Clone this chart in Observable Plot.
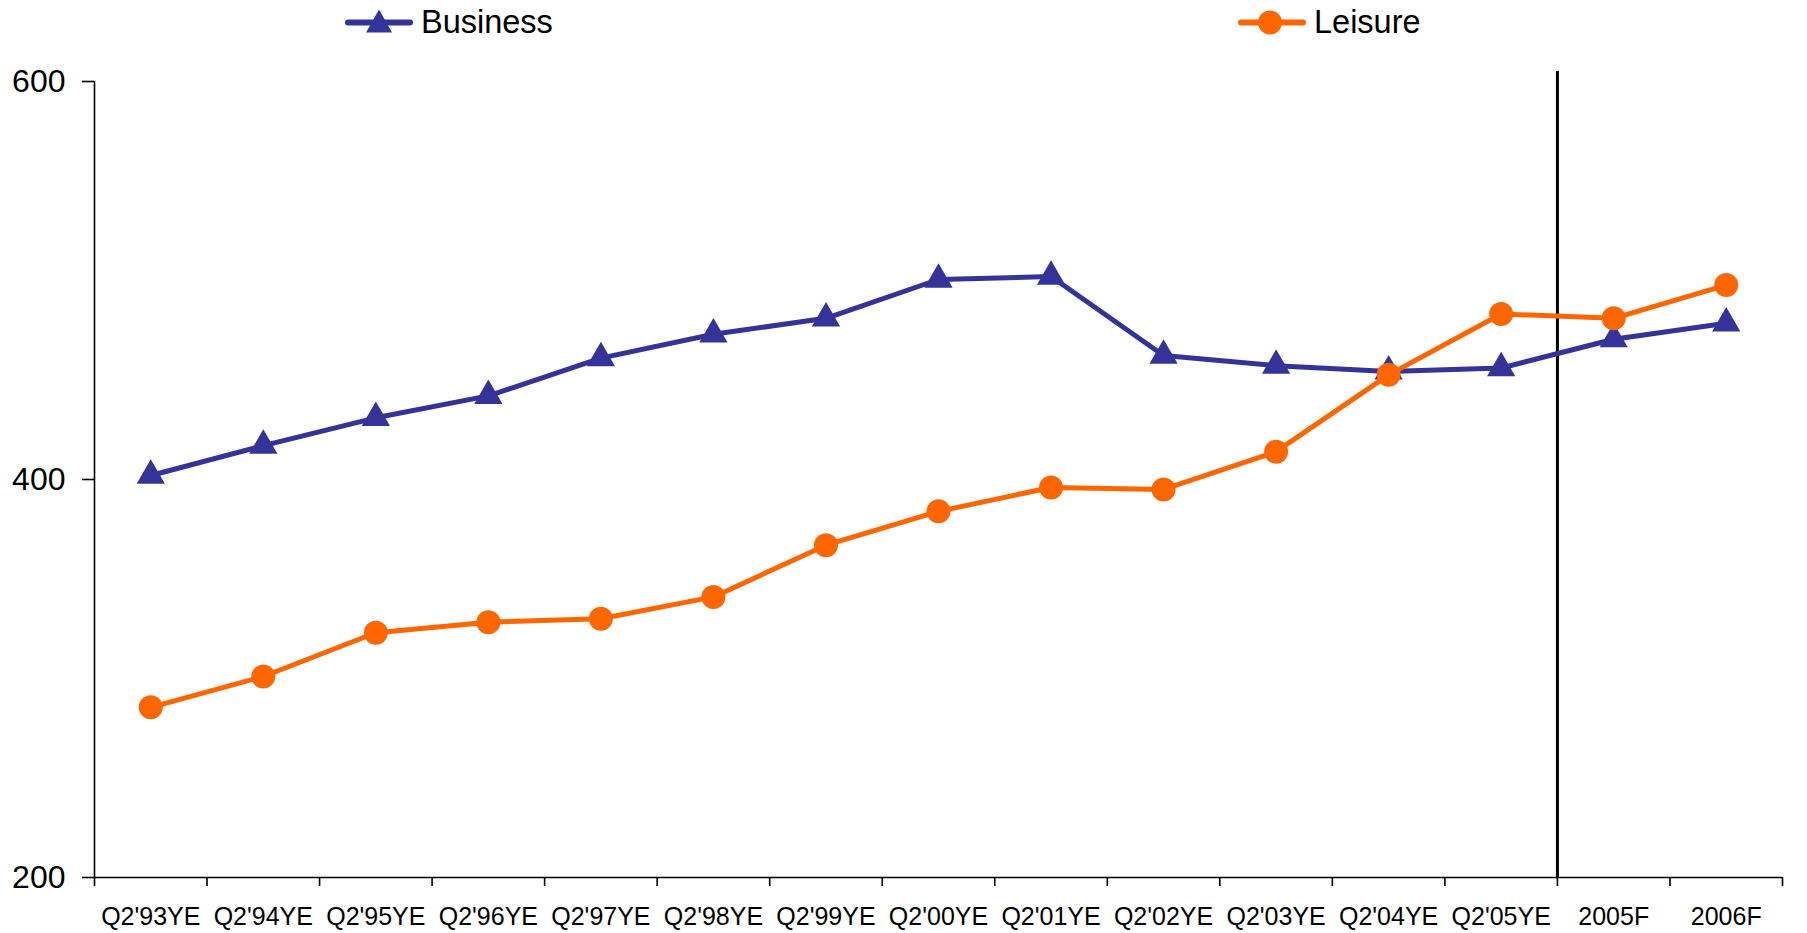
<!DOCTYPE html>
<html>
<head>
<meta charset="utf-8">
<script src="https://cdn.jsdelivr.net/npm/d3@7"></script>
<script src="https://cdn.jsdelivr.net/npm/@observablehq/plot@0.6"></script>
<style>
  html, body { margin: 0; padding: 0; background: #fff; }
  body { width: 1807px; height: 933px; overflow: hidden; font-family: "Liberation Sans", Arial, sans-serif; }
  #legend { position: relative; height: 45px; width: 1807px; }
  .item { position: absolute; top: 0; height: 45px; display: flex; align-items: center; font-size: 32.5px; color: #000; }
  .item svg { display: block; margin-right: 8px; }
</style>
</head>
<body>
<div id="legend"></div>
<div id="chart"></div>
<script>
const categories = ["Q2'93YE","Q2'94YE","Q2'95YE","Q2'96YE","Q2'97YE","Q2'98YE","Q2'99YE","Q2'00YE","Q2'01YE","Q2'02YE","Q2'03YE","Q2'04YE","Q2'05YE","2005F","2006F"];
const business = [402, 417, 431, 442, 461, 473, 481, 500.5, 502, 462.3, 457.2, 454.3, 456, 470.5, 478.5];
const leisure  = [285.5, 301, 323, 328.3, 330, 341, 367, 384, 396, 395, 414, 452.6, 483.2, 481, 497.7];
const seriesNames = ["Business", "Leisure"];
const seriesColors = ["#333399", "#FF6600"];
const yTicks = [200, 400, 600];
const forecastStart = 13; // boundary between actuals and forecasts (category index)

const rows = [];
categories.forEach((c, i) => {
  rows.push({series: "Business", cat: c, pos: i + 0.5, value: business[i]});
  rows.push({series: "Leisure", cat: c, pos: i + 0.5, value: leisure[i]});
});
const bRows = rows.filter(d => d.series === "Business");
const lRows = rows.filter(d => d.series === "Leisure");

// Legend (HTML above the plot)
const legend = document.getElementById("legend");
const legendPos = [345, 1238];
seriesNames.forEach((name, k) => {
  const div = document.createElement("div");
  div.className = "item";
  div.style.left = legendPos[k] + "px";
  const col = seriesColors[k];
  const marker = k === 0
    ? `<path d="M34,8 L47,31 L21,31 Z" fill="${col}"/>`
    : `<circle cx="32" cy="21" r="12" fill="${col}"/>`;
  div.innerHTML = `<svg width="68" height="45" viewBox="0 0 68 42"><line x1="3" y1="21" x2="65" y2="21" stroke="${col}" stroke-width="6" stroke-linecap="round"/>${marker}</svg><span>${name}</span>`;
  legend.appendChild(div);
});

const plot = Plot.plot({
  width: 1807,
  height: 888,
  marginTop: 36,
  marginBottom: 56,
  marginLeft: 94,
  marginRight: 25,
  style: {fontFamily: "'Liberation Sans', Arial, sans-serif", background: "#fff", color: "#000"},
  x: {domain: [0, categories.length], axis: null},
  y: {domain: [200, 600], axis: null},
  marks: [
    // y axis
    Plot.ruleX([0], {y1: 200, y2: 600, stroke: "#000", strokeWidth: 1.6}),
    Plot.axisY({ticks: yTicks, tickSize: 12, tickPadding: 17, fontSize: 32, stroke: "#000", strokeWidth: 1.6, tickFormat: d => d, label: null}),
    // x axis
    Plot.ruleY([200], {stroke: "#000", strokeWidth: 1.6}),
    Plot.axisX({ticks: d3.range(0, categories.length + 1), tickSize: 9, tickFormat: () => "", stroke: "#000", strokeWidth: 1.6, label: null}),
    Plot.axisX({ticks: categories.map((c, i) => i + 0.5), tickSize: 0, tickPadding: 30, fontSize: 25, tickFormat: d => categories[Math.round(d - 0.5)], label: null}),
    // forecast divider
    Plot.ruleX([forecastStart], {y1: 200, y2: 605, stroke: "#000", strokeWidth: 3}),
    // series
    Plot.line(bRows, {x: "pos", y: "value", stroke: seriesColors[0], strokeWidth: 5}),
    Plot.line(lRows, {x: "pos", y: "value", stroke: seriesColors[1], strokeWidth: 5}),
    Plot.dot(bRows, {x: "pos", y: "value", symbol: "triangle", r: 10.5, fill: seriesColors[0], stroke: "none"}),
    Plot.dot(lRows, {x: "pos", y: "value", r: 12, fill: seriesColors[1], stroke: "none"})
  ]
});
document.getElementById("chart").appendChild(plot);
</script>
</body>
</html>
